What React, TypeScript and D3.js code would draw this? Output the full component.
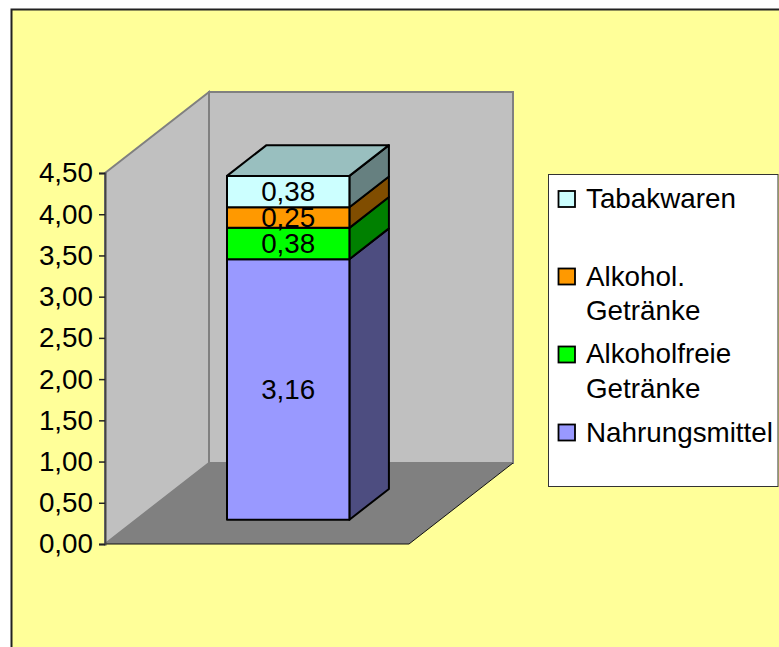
import { useEffect, useRef } from "react";
import * as d3 from "d3";

const categories = ["Warenkorb"];
const seriesNames = ["Nahrungsmittel", "Alkoholfreie Getränke", "Alkohol. Getränke", "Tabakwaren"];
const seriesValues = [3.16, 0.38, 0.25, 0.38];
const yTicks = [0, 0.5, 1, 1.5, 2, 2.5, 3, 3.5, 4, 4.5];

// legend runs top to bottom, wrapped lines as in the picture
const legendLines = [
    ["Tabakwaren"],
    ["Alkohol.", "Getränke"],
    ["Alkoholfreie", "Getränke"],
    ["Nahrungsmittel"],
];

const frontColors = ["#9999FF", "#00FF00", "#FF9900", "#CCFFFF"];
const sideColors = ["#4D4D80", "#008000", "#804D00", "#668080"];
const topColor = "#99BFBF";

const FONT = "Liberation Sans, Arial, sans-serif";
const FONT_SIZE = 27.8;

function App() {
    const svgRef = useRef<SVGSVGElement | null>(null);

    useEffect(() => {
        const svg = d3.select(svgRef.current);
        svg.selectAll("*").remove();

        const width = 779;
        const height = 647;
        const depthX = 104;
        const depthY = -81;

        // Outer chart area, runs off the right and bottom of the page
        svg.append("rect")
            .attr("x", 11.5)
            .attr("y", 9.5)
            .attr("width", width)
            .attr("height", height)
            .attr("fill", "#FFFF99")
            .attr("stroke", "#222")
            .attr("stroke-width", 2);

        const xScale = d3.scaleBand<string>().domain(categories).range([104, 410]).paddingInner(0).paddingOuter(0.75);
        const yScale = d3.scaleLinear().domain([0, 4.5]).range([544, 173]);

        const line = d3.line<[number, number]>();
        // oblique projection: d = 0 front of the box, d = 1 back wall
        const at = (x: number, v: number, d: number): [number, number] => [x + depthX * d, yScale(v) + depthY * d];

        const [xMin, xMax] = [105, 409];
        const vMax = 4.5;

        // Left wall
        svg.append("path")
            .attr("d", line([at(xMin, vMax, 0), at(xMin, vMax, 1), at(xMin, 0, 1), at(xMin, 0, 0)]) + "Z")
            .attr("fill", "#C0C0C0")
            .attr("stroke", "#808080")
            .attr("stroke-width", 2);

        // Back wall
        svg.append("path")
            .attr("d", line([at(xMin, vMax, 1), at(xMax, vMax, 1), at(xMax, 0, 1), at(xMin, 0, 1)]) + "Z")
            .attr("fill", "#C0C0C0")
            .attr("stroke", "#808080")
            .attr("stroke-width", 2);

        // Floor
        svg.append("path")
            .attr("d", line([at(xMin, 0, 0), at(xMax, 0, 0), at(xMax, 0, 1), at(xMin, 0, 1)]) + "Z")
            .attr("fill", "#808080");
        svg.append("path")
            .attr("d", line([at(xMin, 0, 0), at(xMax, 0, 0), at(xMax, 0, 1)]))
            .attr("fill", "none")
            .attr("stroke", "#111")
            .attr("stroke-width", 1);

        // Stacked 3D bar
        const near = 0.3;
        const far = 0.68;
        const x0 = xScale(categories[0])!;
        const barW = xScale.bandwidth();
        let cum = 0;
        const stacks = seriesValues.map((v) => {
            const s = { from: cum, to: cum + v, value: v };
            cum += v;
            return s;
        });

        const bar = svg.append("g").attr("stroke", "#000").attr("stroke-width", 2).attr("stroke-linejoin", "round");
        stacks.forEach((s, i) => {
            bar.append("path")
                .attr("d", line([at(x0 + barW, s.from, near), at(x0 + barW, s.from, far), at(x0 + barW, s.to, far), at(x0 + barW, s.to, near)]) + "Z")
                .attr("fill", sideColors[i]);
            bar.append("path")
                .attr("d", line([at(x0, s.from, near), at(x0 + barW, s.from, near), at(x0 + barW, s.to, near), at(x0, s.to, near)]) + "Z")
                .attr("fill", frontColors[i]);
        });
        bar.append("path")
            .attr("d", line([at(x0, cum, near), at(x0 + barW, cum, near), at(x0 + barW, cum, far), at(x0, cum, far)]) + "Z")
            .attr("fill", topColor);

        // Data labels
        svg.append("g")
            .selectAll("text")
            .data(stacks)
            .join("text")
            .attr("x", () => at(x0 + barW / 2, 0, near)[0])
            .attr("y", (d) => at(0, (d.from + d.to) / 2, near)[1])
            .attr("dy", "0.33em")
            .attr("text-anchor", "middle")
            .attr("font-family", FONT)
            .attr("font-size", FONT_SIZE)
            .attr("fill", "#000")
            .text((d) => d.value.toFixed(2).replace(".", ","));

        // Y axis
        const axis = svg.append("g")
            .attr("transform", `translate(${xMin},0)`)
            .call(d3.axisLeft(yScale).tickValues(yTicks).tickSize(6).tickPadding(6).tickFormat((d) => (d as number).toFixed(2).replace(".", ",")));
        axis.selectAll("text").attr("font-family", FONT).attr("font-size", FONT_SIZE).attr("fill", "#000");
        axis.selectAll("line").attr("stroke", "#222").attr("stroke-width", 1.5);
        axis.select(".domain").attr("stroke", "#444").attr("stroke-width", 2);

        // Legend
        const legendX = 548.5;
        const legendY = 174.5;
        svg.append("rect")
            .attr("x", legendX)
            .attr("y", legendY)
            .attr("width", 229.5)
            .attr("height", 312)
            .attr("fill", "#fff")
            .attr("stroke", "#333")
            .attr("stroke-width", 1);

        const swatchTop = [190.5, 268, 346, 424];
        const baselines = [[207.5], [285.5, 320], [363, 398], [442]];
        const legendColors = [...frontColors].reverse();
        legendLines.forEach((lines, i) => {
            svg.append("rect")
                .attr("x", 558.5)
                .attr("y", swatchTop[i] + 0.5)
                .attr("width", 16.5)
                .attr("height", 16)
                .attr("fill", legendColors[i])
                .attr("stroke", "#000")
                .attr("stroke-width", 1.8);
            lines.forEach((t, j) => {
                svg.append("text")
                    .attr("x", 586)
                    .attr("y", baselines[i][j])
                    .attr("font-family", FONT)
                    .attr("font-size", FONT_SIZE)
                    .attr("fill", "#000")
                    .text(t);
            });
        });
    }, []);

    return (
        <svg
            ref={svgRef}
            width={779}
            height={647}
            aria-label={seriesNames.join(", ")}
            style={{ position: "absolute", left: 0, top: 0, display: "block" }}
        />
    );
}

export default App;
